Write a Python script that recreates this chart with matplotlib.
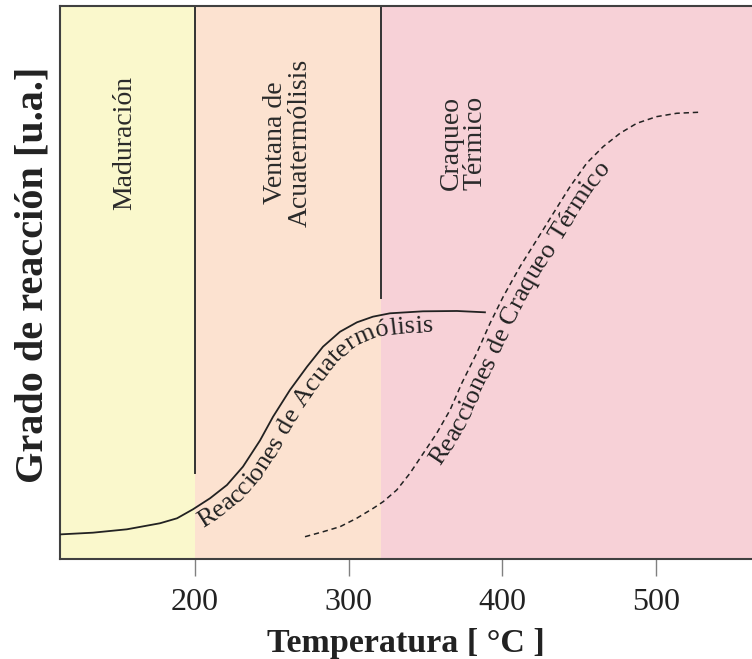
import numpy as np
import matplotlib
matplotlib.use('Agg')
import matplotlib.pyplot as plt
from matplotlib.font_manager import FontProperties

plt.rcParams['font.family'] = ['Liberation Serif', 'DejaVu Serif']

# zones (temperature in degC)
zone_edges = [112.15, 200, 321, 562.5]
zone_colors = ['#FAF8CC', '#FCE2D0', '#F7D1D7']
zone_names = ['Maduración', 'Ventana de\nAcuatermólisis', 'Craqueo\nTérmico']
zone_label_x = [154.5, 260.5, 374.5]
divider_x = [200, 321]
divider_bottom = [0.156, 0.472]

# Reacciones de Acuatermólisis (solid)
acua_T = [112.2, 133.6, 155.7, 177.2, 188.3, 198.7, 209.8, 220.8, 231.2, 242.3, 250.8,
          261.8, 272.9, 283.3, 294.4, 305.4, 315.8, 326.9, 348.4, 370.5, 388.7]
acua_y = [0.0445, 0.0476, 0.0537, 0.0646, 0.0736, 0.0899, 0.1098, 0.1338, 0.1669, 0.2143, 0.2573,
          0.3056, 0.3477, 0.3839, 0.4110, 0.4280, 0.4382, 0.4443, 0.4479, 0.4485, 0.4461]

# Reacciones de Craqueo Termico (dashed)
craq_T = [271.6, 283.5, 294.4, 305.2, 316.0, 322.5, 331.3, 339.9, 348.6, 357.3, 366.0, 373.6,
          383.3, 392.0, 400.6, 411.5, 422.4, 433.2, 444.1, 454.9, 465.7, 476.6, 487.5, 500.4,
          513.5, 527.5]
craq_y = [0.0403, 0.0494, 0.0584, 0.0736, 0.0917, 0.1037, 0.1248, 0.1550, 0.1912, 0.2273, 0.2694, 0.3177,
          0.3719, 0.4262, 0.4744, 0.5286, 0.5769, 0.6251, 0.6734, 0.7157, 0.7458, 0.7698, 0.7879, 0.7999,
          0.8060, 0.8078]

xticks = [200, 300, 400, 500]

fig = plt.figure(figsize=(7.52, 6.59), dpi=100)
ax = fig.add_axes([60 / 752, 1 - 559 / 659, 692 / 752, 553 / 659])
ax.set_xlim(zone_edges[0], zone_edges[-1])
ax.set_ylim(0, 1)

for i in range(3):
    ax.axvspan(zone_edges[i], zone_edges[i + 1], color=zone_colors[i], lw=0, zorder=0)
    ax.text(zone_label_x[i], 0.752, zone_names[i], rotation=90, ha='center', va='center',
            fontsize=20, color='#2a2a2a', multialignment='center', linespacing=0.95)

for xd, yb in zip(divider_x, divider_bottom):
    ax.plot([xd, xd], [yb, 1], color='#333333', lw=1.4, zorder=2)

ax.plot(acua_T, acua_y, color='#222222', lw=1.3, zorder=3, solid_joinstyle='round')
ax.plot(craq_T, craq_y, color='#222222', lw=1.1, ls=(0, (3.5, 2.5)), zorder=3)

for side in ['left', 'bottom', 'top']:
    ax.spines[side].set_color('#404040')
    ax.spines[side].set_linewidth(1.5)
ax.spines['right'].set_visible(False)

ax.set_yticks([])
ax.set_xticks(xticks)
ax.tick_params(axis='x', direction='out', length=12, width=1, color='#808080',
               labelsize=23, pad=9, labelcolor='#222222')
ax.set_xlabel('Temperatura [ °C ]', fontsize=24.5, fontweight='bold', color='#222222', labelpad=8)
ax.set_ylabel('Grado de reacción [u.a.]', fontsize=29, fontweight='bold', color='#222222', labelpad=6)
ax.yaxis.set_label_coords(-0.012, 0.5136)


def text_on_curve(xs, ys, s, start_x, offset, size):
    # lay characters one by one along a path running parallel to the curve
    fig.canvas.draw()
    r = fig.canvas.get_renderer()
    fp = FontProperties(family=['Liberation Serif', 'DejaVu Serif'], size=size)
    pts = ax.transData.transform(np.column_stack([xs, ys]))
    L = np.hypot(*np.diff(pts, axis=0).T)
    cum = np.concatenate([[0], np.cumsum(L)])
    d = np.arange(0, cum[-1], 1.0)
    px = np.interp(d, cum, pts[:, 0])
    py = np.interp(d, cum, pts[:, 1])
    k = 9
    pxs = np.convolve(np.pad(px, k, mode='edge'), np.ones(2 * k + 1) / (2 * k + 1), 'valid')
    pys = np.convolve(np.pad(py, k, mode='edge'), np.ones(2 * k + 1) / (2 * k + 1), 'valid')
    tx, ty = np.gradient(pxs), np.gradient(pys)
    nrm = np.hypot(tx, ty)
    tx, ty = tx / nrm, ty / nrm
    ox, oy = pxs + offset * ty, pys - offset * tx
    oc = np.concatenate([[0], np.cumsum(np.hypot(np.diff(ox), np.diff(oy)))])
    sx = ax.transData.transform([[start_x, 0]])[0, 0]
    pos = oc[np.searchsorted(px, sx)]

    def at(v):
        return np.array([np.interp(v, oc, ox), np.interp(v, oc, oy)])

    base = r.get_text_width_height_descent('xx', fp, ismath=False)[0]
    inv = ax.transData.inverted()
    for ch in s:
        w = r.get_text_width_height_descent('x' + ch + 'x', fp, ismath=False)[0] - base
        mid = pos + w / 2
        p = at(mid)
        t = at(mid + 6) - at(mid - 6)
        ang = np.degrees(np.arctan2(t[1], t[0]))
        q = inv.transform(p)
        if ch != ' ':
            ax.text(q[0], q[1], ch, fontproperties=fp, rotation=ang, rotation_mode='anchor',
                    ha='center', va='baseline', color='#222222', zorder=4)
        pos += w


text_on_curve(acua_T, acua_y, 'Reacciones de Acuatermólisis', 198, 21, 19)
text_on_curve(craq_T, craq_y, 'Reacciones de Craqueo Térmico', 348, 21, 19)

fig.savefig('out.png', dpi=100)
